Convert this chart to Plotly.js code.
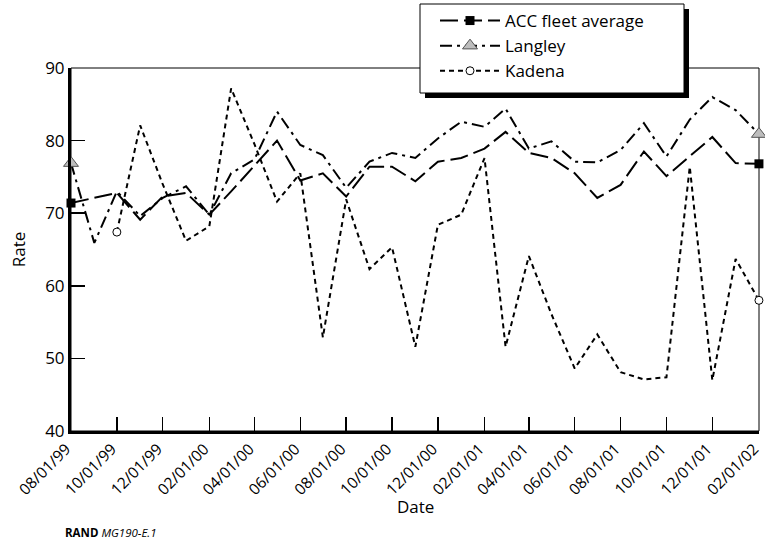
<!DOCTYPE html>
<html>
<head>
<meta charset="utf-8">
<script src="https://cdn.plot.ly/plotly-3.0.1.min.js"></script>
<style>html,body{margin:0;padding:0;background:#fff;}#chart{width:765px;height:550px;}</style>
</head>
<body>
<div id="chart"></div>
<script>
const dates = ['1999-08-01','1999-09-01','1999-10-01','1999-11-01','1999-12-01',
  '2000-01-01','2000-02-01','2000-03-01','2000-04-01','2000-05-01','2000-06-01',
  '2000-07-01','2000-08-01','2000-09-01','2000-10-01','2000-11-01','2000-12-01',
  '2001-01-01','2001-02-01','2001-03-01','2001-04-01','2001-05-01','2001-06-01',
  '2001-07-01','2001-08-01','2001-09-01','2001-10-01','2001-11-01','2001-12-01',
  '2002-01-01','2002-02-01'];
const accFleet = [71.4,72.1,72.8,69.1,72.3,72.8,69.8,73.0,76.5,80.0,74.5,
  75.5,72.3,76.4,76.4,74.4,77.1,77.6,78.9,81.2,78.3,
  77.6,75.5,72.1,73.9,78.5,75.1,77.8,80.5,76.9,76.8];
const langley = [76.9,65.9,73.0,69.6,72.1,73.7,69.8,75.5,77.4,84.0,79.4,
  78.0,73.5,77.1,78.3,77.6,80.3,82.6,81.9,84.4,78.9,
  79.9,77.1,77.0,78.7,82.4,77.8,82.9,86.0,84.2,80.9];
const kadena = [null,null,67.4,82.1,74.0,66.2,68.2,87.2,79.5,71.6,75.5,
  52.9,71.9,62.3,65.3,51.6,68.4,69.8,77.6,51.6,64.1,
  56.1,48.6,53.3,48.1,47.1,47.4,76.4,47.0,63.7,58.0];
const seriesNames = ['ACC fleet average','Langley','Kadena'];
const tickDates = ['1999-08-01','1999-10-01','1999-12-01','2000-02-01','2000-04-01',
  '2000-06-01','2000-08-01','2000-10-01','2000-12-01','2001-02-01','2001-04-01',
  '2001-06-01','2001-08-01','2001-10-01','2001-12-01','2002-02-01'];
const tickLabels = ['08/01/99','10/01/99','12/01/99','02/01/00','04/01/00',
  '06/01/00','08/01/00','10/01/00','12/01/00','02/01/01','04/01/01',
  '06/01/01','08/01/01','10/01/01','12/01/01','02/01/02'];

// markers only at the first and last observed points of each series
function endColors(vals, col){
  let first = vals.findIndex(v => v !== null);
  let last = vals.length - 1;
  while (last >= 0 && vals[last] === null) last--;
  return vals.map((v,i) => (i === 0 || i === first || i === last) ? col : 'rgba(0,0,0,0)');
}

const FONT = '"Open Sans", "Noto Sans", sans-serif';

const traces = [
  {x: dates, y: accFleet, name: seriesNames[0], type: 'scatter', mode: 'lines+markers',
   cliponaxis: false,
   line: {color: '#000', width: 2, dash: '18px,6px'},
   marker: {symbol: 'square', size: 9, color: endColors(accFleet, '#000'),
            line: {width: 0}}},
  {x: dates, y: langley, name: seriesNames[1], type: 'scatter', mode: 'lines+markers',
   cliponaxis: false,
   line: {color: '#000', width: 2, dash: '12px,5px,3px,5px'},
   marker: {symbol: 'triangle-up', size: 13, color: endColors(langley, '#bdbdbd'),
            line: {width: 1, color: endColors(langley, '#555')}}},
  {x: dates, y: kadena, name: seriesNames[2], type: 'scatter', mode: 'lines+markers',
   cliponaxis: false, connectgaps: false,
   line: {color: '#000', width: 2, dash: '5px,4px'},
   marker: {symbol: 'circle', size: 8, color: endColors(kadena, '#fff'),
            line: {width: 1, color: endColors(kadena, '#000')}}}
];

function px2x(p){ return (p - 71) / 688; }
function py2y(p){ return (431 - p) / 363; }

const layout = {
  width: 765, height: 550, autosize: false,
  margin: {l: 71, r: 6, t: 68, b: 119, pad: 0, autoexpand: false},
  paper_bgcolor: '#fff', plot_bgcolor: '#fff',
  font: {family: FONT, color: '#000', size: 16},
  showlegend: true,
  legend: {x: px2x(435), xanchor: 'left', y: py2y(3), yanchor: 'top',
           bgcolor: 'rgba(0,0,0,0)', borderwidth: 0, itemwidth: 60,
           font: {family: FONT, size: 17, color: '#000'}, tracegroupgap: 0},
  xaxis: {type: 'date', range: [dates[0], '2002-02-01 02:00'],
          tickmode: 'array', tickvals: tickDates, ticktext: tickLabels, tickangle: -45,
          ticklabeloverflow: 'allow', ticklabelshift: -5,
          ticks: 'inside', ticklen: 14, tickwidth: 1.5, tickcolor: '#000',
          showline: true, linewidth: 3, linecolor: '#000', showgrid: false, zeroline: false,
          tickfont: {family: FONT, size: 15.5, color: '#000'}},
  yaxis: {range: [40, 90], dtick: 10, tick0: 40,
          ticks: 'inside', ticklen: 14, tickwidth: 1.5, tickcolor: '#000',
          showline: true, linewidth: 3, linecolor: '#000', showgrid: false, zeroline: false,
          tickfont: {family: FONT, size: 17, color: '#000'},
          title: {text: 'Rate', font: {family: FONT, size: 17, color: '#000'}, standoff: 16}},
  shapes: [
    {type: 'rect', xref: 'paper', yref: 'paper', x0: 0, x1: 1, y0: 0, y1: 1,
     line: {color: '#000', width: 1}, layer: 'below'},
    {type: 'rect', xref: 'paper', yref: 'paper', x0: px2x(425), x1: px2x(689), y0: py2y(98), y1: py2y(9),
     line: {width: 0}, fillcolor: '#000', layer: 'above'},
    {type: 'rect', xref: 'paper', yref: 'paper', x0: px2x(420), x1: px2x(684), y0: py2y(93), y1: py2y(4),
     line: {color: '#000', width: 1}, fillcolor: '#fff', layer: 'above'}
  ],
  annotations: [
    {text: 'Date', xref: 'paper', yref: 'paper', x: 0.5, y: py2y(506),
     xanchor: 'center', yanchor: 'middle', showarrow: false,
     font: {family: FONT, size: 17, color: '#000'}},
    {text: '<b>RAND</b> <i>MG190-E.1</i>', xref: 'paper', yref: 'paper',
     x: px2x(63), y: py2y(532), xanchor: 'left', yanchor: 'middle', showarrow: false,
     font: {family: FONT, size: 11.5, color: '#000'}}
  ]
};

Plotly.newPlot('chart', traces, layout, {staticPlot: true, displayModeBar: false});
</script>
</body>
</html>
